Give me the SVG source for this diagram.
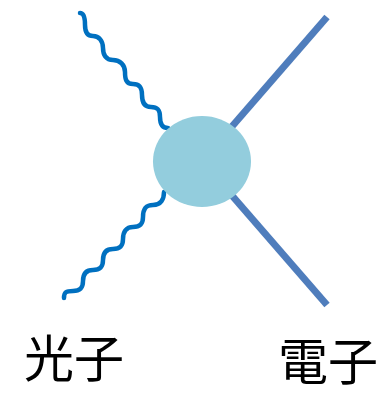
<svg xmlns="http://www.w3.org/2000/svg" width="390" height="394" viewBox="0 0 390 394">
<style>
.wave{fill:none;stroke:#0070C0;stroke-width:4.5;stroke-linecap:round;stroke-linejoin:round}
.elec{fill:none;stroke:#4F7DBC;stroke-width:7}
.lbl{font-family:"Noto Sans CJK JP","Noto Sans CJK SC",sans-serif;font-size:50px;fill:#000}
</style>
<rect width="390" height="394" fill="#fff"/>
<g id="connectors">
<path class="wave" d="M80,13 C84,13 85,18 85,25 C85,32 87,36 93,36 S103,41 103,48 S106,60 113,60 S125,65 125,72 S126,84 133,84 S142,88 142,95 S144,107 151,107 S160,110 160,117 S162,128 168,128"/>
<path class="wave" d="M164,192 C164,199 161,205 153,205 S143,210 143,217 S140,227 133,227 S123,232 123,239 S120,249 113,249 S103,253 103,260 S100,270 93,270 S83,274 83,281 S80,291 73,291 S64,292 64,298"/>
<line class="elec" x1="202" y1="161" x2="327" y2="17"/>
<line class="elec" x1="202" y1="161" x2="327" y2="305"/>
</g>
<g id="vertex">
<ellipse cx="202" cy="161.5" rx="49" ry="45.5" fill="#93CDDD"/>
</g>
<g id="photon-label">
<text class="lbl" x="24" y="377">光子</text>
</g>
<g id="electron-label">
<text class="lbl" x="278" y="380">電子</text>
</g>
</svg>
